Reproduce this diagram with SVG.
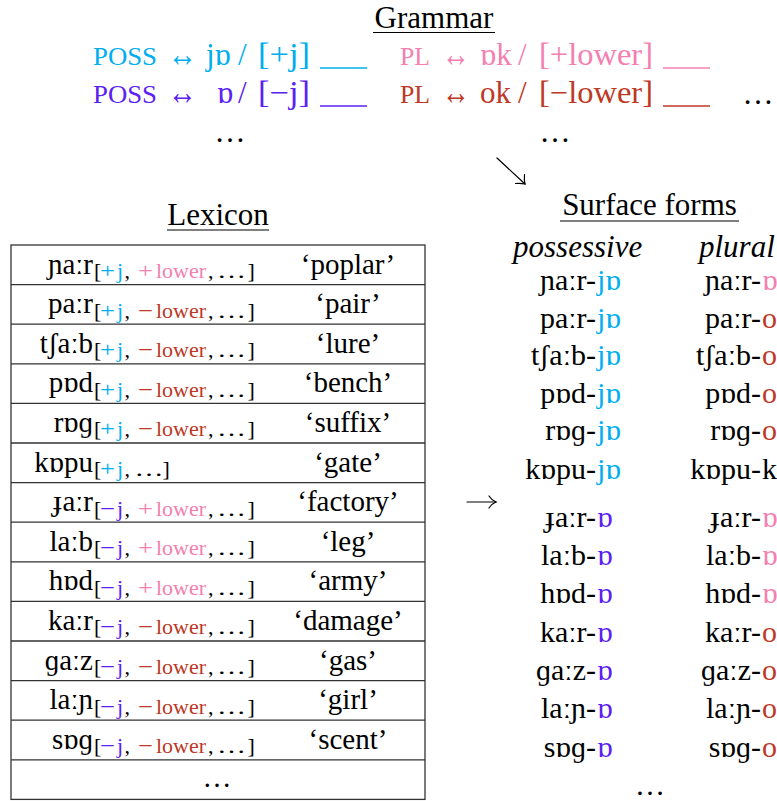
<svg xmlns="http://www.w3.org/2000/svg" width="777" height="801" viewBox="0 0 777 801">
  <style>
    text { font-family: "Liberation Serif", serif; fill: #000; }
    .hd { font-size: 31px; }
    .g  { font-size: 31px; }
    .ar { font-size: 36px; }
    .sc { font-size: 25px; }
    .w  { font-size: 29px; }
    .sub { font-size: 22px; }
    .sf { font-size: 30px; }
    .it { font-size: 31px; font-style: italic; }
    .cy { fill: #00AEEF; }
    .vi { fill: #5B21F2; }
    .pk { fill: #F380B0; }
    .rd { fill: #BD3825; }
    .ul { stroke: #000; stroke-width: 1.2; }
    .grid { stroke: #333; stroke-width: 1.3; fill: none; }
    .arr { stroke: #000; stroke-width: 1.2; fill: none; stroke-linecap: round; }
  </style>

  <!-- Grammar: morphological rules -->
  <g id="grammar">
    <text class="hd" x="434" y="28" text-anchor="middle">Grammar</text>
    <line class="ul" x1="373" y1="32.5" x2="495" y2="32.5"/>

    <g id="rule-poss-plus">
      <text class="sc cy" x="93" y="65" textLength="64" lengthAdjust="spacingAndGlyphs">POSS</text>
      <text class="ar cy" x="168" y="66" textLength="29" lengthAdjust="spacingAndGlyphs">↔</text>
      <text class="g cy" x="206" y="65">jɒ</text>
      <text class="g cy" x="238" y="65">/</text>
      <text class="g cy" x="258" y="65" textLength="52" lengthAdjust="spacingAndGlyphs">[+j]</text>
      <line x1="320" y1="68" x2="367" y2="68" stroke="#00AEEF" stroke-width="1.6"/>
    </g>
    <g id="rule-poss-minus">
      <text class="sc vi" x="93" y="103" textLength="64" lengthAdjust="spacingAndGlyphs">POSS</text>
      <text class="ar vi" x="168" y="104" textLength="29" lengthAdjust="spacingAndGlyphs">↔</text>
      <text class="g vi" x="217" y="103">ɒ</text>
      <text class="g vi" x="238" y="103">/</text>
      <text class="g vi" x="258" y="103" textLength="52" lengthAdjust="spacingAndGlyphs">[−j]</text>
      <line x1="320" y1="106" x2="367" y2="106" stroke="#5B21F2" stroke-width="1.6"/>
    </g>
    <g id="rule-pl-plus">
      <text class="sc pk" x="400" y="65" textLength="30" lengthAdjust="spacingAndGlyphs">PL</text>
      <text class="ar pk" x="442" y="66" textLength="28" lengthAdjust="spacingAndGlyphs">↔</text>
      <text class="g pk" x="480" y="65">ɒk</text>
      <text class="g pk" x="518" y="65">/</text>
      <text class="g pk" x="539" y="65" textLength="114" lengthAdjust="spacingAndGlyphs">[+lower]</text>
      <line x1="663" y1="68" x2="710" y2="68" stroke="#F380B0" stroke-width="1.6"/>
    </g>
    <g id="rule-pl-minus">
      <text class="sc rd" x="400" y="103" textLength="30" lengthAdjust="spacingAndGlyphs">PL</text>
      <text class="ar rd" x="442" y="104" textLength="28" lengthAdjust="spacingAndGlyphs">↔</text>
      <text class="g rd" x="480" y="103">ok</text>
      <text class="g rd" x="518" y="103">/</text>
      <text class="g rd" x="539" y="103" textLength="114" lengthAdjust="spacingAndGlyphs">[−lower]</text>
      <line x1="663" y1="106" x2="710" y2="106" stroke="#BD3825" stroke-width="1.6"/>
    </g>
    <text class="g" x="758" y="104" text-anchor="middle">…</text>
    <text class="g" x="230" y="142" text-anchor="middle">…</text>
    <text class="g" x="555" y="142" text-anchor="middle">…</text>
  </g>

  <!-- Lexicon table: stem right-aligned, feature subscript left-aligned, gloss centred -->
  <g id="lexicon">
    <text class="hd" x="218" y="225" text-anchor="middle">Lexicon</text>
    <line class="ul" x1="167" y1="230" x2="269" y2="230"/>
    <rect class="grid" x="11" y="245" width="414" height="554.4"/>
    <path class="grid" d="M11 284.6H425M11 324.2H425M11 363.8H425M11 403.4H425M11 443H425M11 482.6H425M11 522.2H425M11 561.8H425M11 601.4H425M11 641H425M11 680.6H425M11 720.2H425M11 759.8H425"/>

    <g id="lex-poplar">
      <text class="w" x="93" y="273.5" text-anchor="end">ɲaːr</text>
      <text class="sub" y="278"><tspan x="94">[</tspan><tspan x="100" class="cy" textLength="15" lengthAdjust="spacingAndGlyphs">+</tspan><tspan x="117" class="cy">j</tspan><tspan x="124.5">,</tspan><tspan x="138" class="pk" textLength="15" lengthAdjust="spacingAndGlyphs">+</tspan><tspan x="156" class="pk">lower</tspan><tspan x="208">,</tspan><tspan x="217" textLength="29" lengthAdjust="spacingAndGlyphs">…</tspan><tspan x="247.5">]</tspan></text>
      <text class="w" x="348" y="273.5" text-anchor="middle">‘poplar’</text>
    </g>
    <g id="lex-pair">
      <text class="w" x="93" y="313.1" text-anchor="end">paːr</text>
      <text class="sub" y="317.6"><tspan x="94">[</tspan><tspan x="100" class="cy" textLength="15" lengthAdjust="spacingAndGlyphs">+</tspan><tspan x="117" class="cy">j</tspan><tspan x="124.5">,</tspan><tspan x="138" class="rd" textLength="15" lengthAdjust="spacingAndGlyphs">−</tspan><tspan x="156" class="rd">lower</tspan><tspan x="208">,</tspan><tspan x="217" textLength="29" lengthAdjust="spacingAndGlyphs">…</tspan><tspan x="247.5">]</tspan></text>
      <text class="w" x="348" y="313.1" text-anchor="middle">‘pair’</text>
    </g>
    <g id="lex-lure">
      <text class="w" x="93" y="352.7" text-anchor="end">tʃaːb</text>
      <text class="sub" y="357.2"><tspan x="94">[</tspan><tspan x="100" class="cy" textLength="15" lengthAdjust="spacingAndGlyphs">+</tspan><tspan x="117" class="cy">j</tspan><tspan x="124.5">,</tspan><tspan x="138" class="rd" textLength="15" lengthAdjust="spacingAndGlyphs">−</tspan><tspan x="156" class="rd">lower</tspan><tspan x="208">,</tspan><tspan x="217" textLength="29" lengthAdjust="spacingAndGlyphs">…</tspan><tspan x="247.5">]</tspan></text>
      <text class="w" x="348" y="352.7" text-anchor="middle">‘lure’</text>
    </g>
    <g id="lex-bench">
      <text class="w" x="93" y="392.3" text-anchor="end">pɒd</text>
      <text class="sub" y="396.8"><tspan x="94">[</tspan><tspan x="100" class="cy" textLength="15" lengthAdjust="spacingAndGlyphs">+</tspan><tspan x="117" class="cy">j</tspan><tspan x="124.5">,</tspan><tspan x="138" class="rd" textLength="15" lengthAdjust="spacingAndGlyphs">−</tspan><tspan x="156" class="rd">lower</tspan><tspan x="208">,</tspan><tspan x="217" textLength="29" lengthAdjust="spacingAndGlyphs">…</tspan><tspan x="247.5">]</tspan></text>
      <text class="w" x="348" y="392.3" text-anchor="middle">‘bench’</text>
    </g>
    <g id="lex-suffix">
      <text class="w" x="93" y="431.9" text-anchor="end">rɒɡ</text>
      <text class="sub" y="436.4"><tspan x="94">[</tspan><tspan x="100" class="cy" textLength="15" lengthAdjust="spacingAndGlyphs">+</tspan><tspan x="117" class="cy">j</tspan><tspan x="124.5">,</tspan><tspan x="138" class="rd" textLength="15" lengthAdjust="spacingAndGlyphs">−</tspan><tspan x="156" class="rd">lower</tspan><tspan x="208">,</tspan><tspan x="217" textLength="29" lengthAdjust="spacingAndGlyphs">…</tspan><tspan x="247.5">]</tspan></text>
      <text class="w" x="348" y="431.9" text-anchor="middle">‘suffix’</text>
    </g>
    <g id="lex-gate">
      <text class="w" x="93" y="471.5" text-anchor="end">kɒpu</text>
      <text class="sub" y="476"><tspan x="94">[</tspan><tspan x="100" class="cy" textLength="15" lengthAdjust="spacingAndGlyphs">+</tspan><tspan x="117" class="cy">j</tspan><tspan x="124.5">,</tspan><tspan x="134.5" textLength="29" lengthAdjust="spacingAndGlyphs">…</tspan><tspan x="162.5">]</tspan></text>
      <text class="w" x="348" y="471.5" text-anchor="middle">‘gate’</text>
    </g>
    <g id="lex-factory">
      <text class="w" x="93" y="511.1" text-anchor="end">ɟaːr</text>
      <text class="sub" y="515.6"><tspan x="94">[</tspan><tspan x="100" class="vi" textLength="15" lengthAdjust="spacingAndGlyphs">−</tspan><tspan x="117" class="vi">j</tspan><tspan x="124.5">,</tspan><tspan x="138" class="pk" textLength="15" lengthAdjust="spacingAndGlyphs">+</tspan><tspan x="156" class="pk">lower</tspan><tspan x="208">,</tspan><tspan x="217" textLength="29" lengthAdjust="spacingAndGlyphs">…</tspan><tspan x="247.5">]</tspan></text>
      <text class="w" x="348" y="511.1" text-anchor="middle">‘factory’</text>
    </g>
    <g id="lex-leg">
      <text class="w" x="93" y="550.7" text-anchor="end">laːb</text>
      <text class="sub" y="555.2"><tspan x="94">[</tspan><tspan x="100" class="vi" textLength="15" lengthAdjust="spacingAndGlyphs">−</tspan><tspan x="117" class="vi">j</tspan><tspan x="124.5">,</tspan><tspan x="138" class="pk" textLength="15" lengthAdjust="spacingAndGlyphs">+</tspan><tspan x="156" class="pk">lower</tspan><tspan x="208">,</tspan><tspan x="217" textLength="29" lengthAdjust="spacingAndGlyphs">…</tspan><tspan x="247.5">]</tspan></text>
      <text class="w" x="348" y="550.7" text-anchor="middle">‘leg’</text>
    </g>
    <g id="lex-army">
      <text class="w" x="93" y="590.3" text-anchor="end">hɒd</text>
      <text class="sub" y="594.8"><tspan x="94">[</tspan><tspan x="100" class="vi" textLength="15" lengthAdjust="spacingAndGlyphs">−</tspan><tspan x="117" class="vi">j</tspan><tspan x="124.5">,</tspan><tspan x="138" class="pk" textLength="15" lengthAdjust="spacingAndGlyphs">+</tspan><tspan x="156" class="pk">lower</tspan><tspan x="208">,</tspan><tspan x="217" textLength="29" lengthAdjust="spacingAndGlyphs">…</tspan><tspan x="247.5">]</tspan></text>
      <text class="w" x="348" y="590.3" text-anchor="middle">‘army’</text>
    </g>
    <g id="lex-damage">
      <text class="w" x="93" y="629.9" text-anchor="end">kaːr</text>
      <text class="sub" y="634.4"><tspan x="94">[</tspan><tspan x="100" class="vi" textLength="15" lengthAdjust="spacingAndGlyphs">−</tspan><tspan x="117" class="vi">j</tspan><tspan x="124.5">,</tspan><tspan x="138" class="rd" textLength="15" lengthAdjust="spacingAndGlyphs">−</tspan><tspan x="156" class="rd">lower</tspan><tspan x="208">,</tspan><tspan x="217" textLength="29" lengthAdjust="spacingAndGlyphs">…</tspan><tspan x="247.5">]</tspan></text>
      <text class="w" x="348" y="629.9" text-anchor="middle">‘damage’</text>
    </g>
    <g id="lex-gas">
      <text class="w" x="93" y="669.5" text-anchor="end">ɡaːz</text>
      <text class="sub" y="674"><tspan x="94">[</tspan><tspan x="100" class="vi" textLength="15" lengthAdjust="spacingAndGlyphs">−</tspan><tspan x="117" class="vi">j</tspan><tspan x="124.5">,</tspan><tspan x="138" class="rd" textLength="15" lengthAdjust="spacingAndGlyphs">−</tspan><tspan x="156" class="rd">lower</tspan><tspan x="208">,</tspan><tspan x="217" textLength="29" lengthAdjust="spacingAndGlyphs">…</tspan><tspan x="247.5">]</tspan></text>
      <text class="w" x="348" y="669.5" text-anchor="middle">‘gas’</text>
    </g>
    <g id="lex-girl">
      <text class="w" x="93" y="709.1" text-anchor="end">laːɲ</text>
      <text class="sub" y="713.6"><tspan x="94">[</tspan><tspan x="100" class="vi" textLength="15" lengthAdjust="spacingAndGlyphs">−</tspan><tspan x="117" class="vi">j</tspan><tspan x="124.5">,</tspan><tspan x="138" class="rd" textLength="15" lengthAdjust="spacingAndGlyphs">−</tspan><tspan x="156" class="rd">lower</tspan><tspan x="208">,</tspan><tspan x="217" textLength="29" lengthAdjust="spacingAndGlyphs">…</tspan><tspan x="247.5">]</tspan></text>
      <text class="w" x="348" y="709.1" text-anchor="middle">‘girl’</text>
    </g>
    <g id="lex-scent">
      <text class="w" x="93" y="748.7" text-anchor="end">sɒɡ</text>
      <text class="sub" y="753.2"><tspan x="94">[</tspan><tspan x="100" class="vi" textLength="15" lengthAdjust="spacingAndGlyphs">−</tspan><tspan x="117" class="vi">j</tspan><tspan x="124.5">,</tspan><tspan x="138" class="rd" textLength="15" lengthAdjust="spacingAndGlyphs">−</tspan><tspan x="156" class="rd">lower</tspan><tspan x="208">,</tspan><tspan x="217" textLength="29" lengthAdjust="spacingAndGlyphs">…</tspan><tspan x="247.5">]</tspan></text>
      <text class="w" x="348" y="748.7" text-anchor="middle">‘scent’</text>
    </g>
    <text class="w" x="217" y="787" text-anchor="middle">…</text>
  </g>

  <!-- Surface forms: stem-hyphen right aligned, suffix left aligned -->
  <g id="surface">
    <text class="hd" x="649.5" y="215" text-anchor="middle">Surface forms</text>
    <line class="ul" x1="560" y1="221" x2="739" y2="221"/>
    <text class="it" x="513" y="257">possessive</text>
    <text class="it" x="699" y="257">plural</text>

    <g id="sf-possessive">
      <text class="sf" x="596" y="290" text-anchor="end">ɲaːr-</text><text class="sf cy" x="597" y="290">jɒ</text>
      <text class="sf" x="596" y="327.6" text-anchor="end">paːr-</text><text class="sf cy" x="597" y="327.6">jɒ</text>
      <text class="sf" x="596" y="365.2" text-anchor="end">tʃaːb-</text><text class="sf cy" x="597" y="365.2">jɒ</text>
      <text class="sf" x="596" y="402.8" text-anchor="end">pɒd-</text><text class="sf cy" x="597" y="402.8">jɒ</text>
      <text class="sf" x="596" y="440.4" text-anchor="end">rɒɡ-</text><text class="sf cy" x="597" y="440.4">jɒ</text>
      <text class="sf" x="596" y="479" text-anchor="end">kɒpu-</text><text class="sf cy" x="597" y="479">jɒ</text>
      <text class="sf" x="596" y="526.7" text-anchor="end">ɟaːr-</text><text class="sf vi" x="597" y="526.7">ɒ</text>
      <text class="sf" x="596" y="565" text-anchor="end">laːb-</text><text class="sf vi" x="597" y="565">ɒ</text>
      <text class="sf" x="596" y="603.3" text-anchor="end">hɒd-</text><text class="sf vi" x="597" y="603.3">ɒ</text>
      <text class="sf" x="596" y="641.7" text-anchor="end">kaːr-</text><text class="sf vi" x="597" y="641.7">ɒ</text>
      <text class="sf" x="596" y="680" text-anchor="end">ɡaːz-</text><text class="sf vi" x="597" y="680">ɒ</text>
      <text class="sf" x="596" y="718.3" text-anchor="end">laːɲ-</text><text class="sf vi" x="597" y="718.3">ɒ</text>
      <text class="sf" x="596" y="756.7" text-anchor="end">sɒɡ-</text><text class="sf vi" x="597" y="756.7">ɒ</text>
    </g>
    <g id="sf-plural">
      <text class="sf" x="761" y="290" text-anchor="end">ɲaːr-</text><text class="sf pk" x="762" y="290">ɒ</text>
      <text class="sf" x="761" y="327.6" text-anchor="end">paːr-</text><text class="sf rd" x="762" y="327.6">o</text>
      <text class="sf" x="761" y="365.2" text-anchor="end">tʃaːb-</text><text class="sf rd" x="762" y="365.2">o</text>
      <text class="sf" x="761" y="402.8" text-anchor="end">pɒd-</text><text class="sf rd" x="762" y="402.8">o</text>
      <text class="sf" x="761" y="440.4" text-anchor="end">rɒɡ-</text><text class="sf rd" x="762" y="440.4">o</text>
      <text class="sf" x="761" y="479" text-anchor="end">kɒpu-</text><text class="sf" x="762" y="479">k</text>
      <text class="sf" x="761" y="526.7" text-anchor="end">ɟaːr-</text><text class="sf pk" x="762" y="526.7">ɒ</text>
      <text class="sf" x="761" y="565" text-anchor="end">laːb-</text><text class="sf pk" x="762" y="565">ɒ</text>
      <text class="sf" x="761" y="603.3" text-anchor="end">hɒd-</text><text class="sf pk" x="762" y="603.3">ɒ</text>
      <text class="sf" x="761" y="641.7" text-anchor="end">kaːr-</text><text class="sf rd" x="762" y="641.7">o</text>
      <text class="sf" x="761" y="680" text-anchor="end">ɡaːz-</text><text class="sf rd" x="762" y="680">o</text>
      <text class="sf" x="761" y="718.3" text-anchor="end">laːɲ-</text><text class="sf rd" x="762" y="718.3">o</text>
      <text class="sf" x="761" y="756.7" text-anchor="end">sɒɡ-</text><text class="sf rd" x="762" y="756.7">o</text>
    </g>
    <text class="sf" x="650" y="795" text-anchor="middle">…</text>
  </g>

  <!-- Connectors: grammar to surface forms, lexicon to surface forms -->
  <g id="connectors">
    <path class="arr" d="M497 158L525 184"/>
    <path class="arr" d="M515.5 183.5Q521 183 525 184Q524 180 524.5 174.5"/>
    <path class="arr" d="M467 502H496"/>
    <path class="arr" d="M489 496Q492 500.5 496 502Q492 503.5 489 508"/>
  </g>
</svg>
